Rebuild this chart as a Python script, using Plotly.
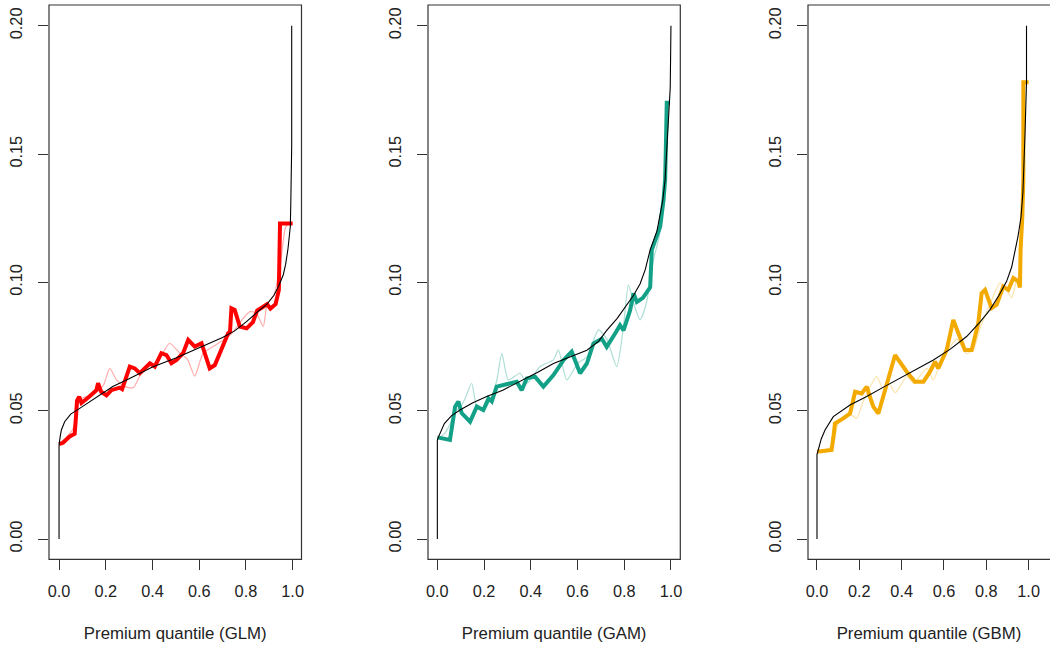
import plotly.graph_objects as go

# ---------------- data ----------------
x_ticks = [0.0, 0.2, 0.4, 0.6, 0.8, 1.0]
x_tick_labels = ["0.0", "0.2", "0.4", "0.6", "0.8", "1.0"]
y_ticks = [0.0, 0.05, 0.10, 0.15, 0.20]
y_tick_labels = ["0.00", "0.05", "0.10", "0.15", "0.20"]

model_names = ["GLM", "GAM", "GBM"]

# GLM
glm_ref_x = [0, 0, 0.005, 0.01, 0.024, 0.05, 0.09, 0.13, 0.175, 0.23, 0.30, 0.40, 0.50, 0.60,
             0.70, 0.75, 0.80, 0.85, 0.89, 0.92, 0.94, 0.96, 0.97, 0.98, 0.99, 0.992, 0.996, 0.996]
glm_ref_y = [0, 0.0366, 0.040, 0.0425, 0.0457, 0.0487, 0.051, 0.0535, 0.056, 0.0594, 0.0625, 0.067,
             0.0705, 0.0745, 0.0785, 0.081, 0.0845, 0.0885, 0.0915, 0.095, 0.0985, 0.103, 0.107,
             0.113, 0.1217, 0.130, 0.153, 0.200]
glm_fit_x = [0, 0.017, 0.046, 0.067, 0.072, 0.077, 0.086, 0.096, 0.13, 0.16, 0.167, 0.18, 0.203,
             0.224, 0.26, 0.27, 0.303, 0.324, 0.346, 0.367, 0.389, 0.41, 0.438, 0.46, 0.481, 0.503,
             0.531, 0.553, 0.581, 0.61, 0.631, 0.645, 0.667, 0.695, 0.724, 0.732, 0.738, 0.752,
             0.774, 0.803, 0.83, 0.848, 0.875, 0.891, 0.905, 0.927, 0.941, 0.944, 0.946, 1.0]
glm_fit_y = [0.037, 0.0375, 0.040, 0.041, 0.047, 0.054, 0.0555, 0.053, 0.0555, 0.058, 0.0607,
             0.0574, 0.056, 0.058, 0.059, 0.0584, 0.0672, 0.0665, 0.0646, 0.0665, 0.0685, 0.0672,
             0.0724, 0.0717, 0.0685, 0.0698, 0.0724, 0.0776, 0.075, 0.0763, 0.0711, 0.0665, 0.0678,
             0.0737, 0.0802, 0.0808, 0.0899, 0.0893, 0.0828, 0.0821, 0.0845, 0.089, 0.0905, 0.0915,
             0.0898, 0.0915, 0.097, 0.110, 0.123, 0.123]
glm_alt_x = [0, 0.03, 0.06, 0.08, 0.10, 0.14, 0.19, 0.217, 0.246, 0.28, 0.318, 0.36, 0.40, 0.44,
             0.474, 0.517, 0.55, 0.581, 0.617, 0.66, 0.703, 0.738, 0.78, 0.817, 0.845, 0.874, 0.891,
             0.92, 0.95, 0.968, 0.98]
glm_alt_y = [0.037, 0.0395, 0.043, 0.052, 0.055, 0.056, 0.060, 0.0665, 0.062, 0.0595, 0.059, 0.066,
             0.068, 0.072, 0.0763, 0.0724, 0.070, 0.0635, 0.0724, 0.075, 0.0776, 0.080, 0.085,
             0.0886, 0.088, 0.0828, 0.0915, 0.095, 0.109, 0.121, 0.123]

# GAM
gam_ref_x = [0, 0, 0.005, 0.03, 0.06, 0.097, 0.15, 0.211, 0.28, 0.354, 0.43, 0.497, 0.57, 0.64,
             0.69, 0.725, 0.77, 0.811, 0.84, 0.868, 0.89, 0.911, 0.94, 0.965, 0.975, 0.982, 0.99,
             0.997, 1.0]
gam_ref_y = [0, 0.0385, 0.0398, 0.045, 0.048, 0.0503, 0.053, 0.0555, 0.058, 0.0613, 0.065, 0.0684,
             0.071, 0.0736, 0.077, 0.0813, 0.086, 0.091, 0.095, 0.0995, 0.105, 0.1127, 0.120,
             0.132, 0.140, 0.1517, 0.163, 0.176, 0.200]
gam_fit_x = [0, 0.026, 0.054, 0.065, 0.076, 0.09, 0.104, 0.14, 0.169, 0.197, 0.219, 0.233, 0.254,
             0.283, 0.31, 0.34, 0.361, 0.383, 0.418, 0.454, 0.497, 0.54, 0.575, 0.611, 0.64, 0.668,
             0.704, 0.725, 0.761, 0.782, 0.797, 0.825, 0.84, 0.854, 0.88, 0.911, 0.918, 0.935,
             0.954, 0.968, 0.975, 0.978, 0.982, 0.996]
gam_fit_y = [0.0396, 0.0393, 0.0386, 0.045, 0.0516, 0.0536, 0.0491, 0.0457, 0.0516, 0.0503,
             0.0548, 0.0536, 0.0594, 0.060, 0.0605, 0.0613, 0.058, 0.0626, 0.0633, 0.0594, 0.0639,
             0.0697, 0.073, 0.0646, 0.0684, 0.0762, 0.0781, 0.0749, 0.0801, 0.0833, 0.0813, 0.0891,
             0.0957, 0.0924, 0.094, 0.0981, 0.1127, 0.117, 0.1218, 0.132, 0.140, 0.152, 0.170, 0.170]
gam_alt_x = [0, 0.03, 0.05, 0.08, 0.10, 0.12, 0.147, 0.169, 0.20, 0.23, 0.255, 0.276, 0.304,
             0.354, 0.383, 0.44, 0.497, 0.518, 0.554, 0.60, 0.64, 0.69, 0.725, 0.768, 0.795, 0.818,
             0.84, 0.868, 0.895, 0.925, 0.95, 0.97, 0.98, 0.99]
gam_alt_y = [0.039, 0.041, 0.044, 0.050, 0.0516, 0.055, 0.0607, 0.0516, 0.0503, 0.055, 0.062,
             0.0724, 0.062, 0.0646, 0.0607, 0.0672, 0.0698, 0.0737, 0.062, 0.0684, 0.071, 0.0815,
             0.078, 0.0672, 0.0815, 0.099, 0.092, 0.0854, 0.092, 0.1088, 0.118, 0.135, 0.160, 0.170]

# GBM
gbm_ref_x = [0, 0, 0.006, 0.02, 0.038, 0.077, 0.156, 0.235, 0.31, 0.392, 0.47, 0.55, 0.63, 0.707,
             0.77, 0.817, 0.86, 0.896, 0.92, 0.936, 0.95, 0.964, 0.973, 0.983, 0.99, 0.99]
gbm_ref_y = [0, 0.033, 0.0347, 0.039, 0.0425, 0.0477, 0.0522, 0.0555, 0.059, 0.0626, 0.066,
             0.0698, 0.074, 0.0789, 0.0845, 0.0893, 0.095, 0.1004, 0.106, 0.1127, 0.118, 0.1255,
             0.135, 0.158, 0.178, 0.200]
gbm_fit_x = [0, 0.04, 0.069, 0.078, 0.085, 0.124, 0.156, 0.168, 0.18, 0.211, 0.235, 0.25, 0.266,
             0.29, 0.329, 0.369, 0.424, 0.463, 0.503, 0.534, 0.558, 0.573, 0.613, 0.644, 0.668,
             0.699, 0.731, 0.762, 0.778, 0.794, 0.825, 0.849, 0.88, 0.904, 0.928, 0.951, 0.959,
             0.962, 0.97, 0.975, 0.975, 1.0]
gbm_fit_y = [0.034, 0.0345, 0.0347, 0.040, 0.045, 0.047, 0.0489, 0.053, 0.0574, 0.0567, 0.0594,
             0.0555, 0.0516, 0.0489, 0.0607, 0.0717, 0.0652, 0.0613, 0.0613, 0.0652, 0.0691,
             0.0665, 0.0737, 0.0854, 0.0802, 0.0737, 0.0737, 0.0841, 0.0958, 0.0971, 0.090,
             0.0913, 0.0984, 0.0971, 0.1017, 0.1004, 0.098, 0.113, 0.125, 0.140, 0.178, 0.178]
gbm_alt_x = [0, 0.07, 0.10, 0.15, 0.187, 0.22, 0.282, 0.31, 0.34, 0.37, 0.424, 0.46, 0.49, 0.52,
             0.55, 0.58, 0.62, 0.66, 0.707, 0.74, 0.77, 0.82, 0.865, 0.895, 0.92, 0.94, 0.96, 0.97]
gbm_alt_y = [0.034, 0.036, 0.045, 0.049, 0.047, 0.054, 0.0633, 0.059, 0.0607, 0.057, 0.0633,
             0.0605, 0.064, 0.0665, 0.0619, 0.068, 0.0737, 0.078, 0.0722, 0.074, 0.082, 0.092,
             0.0997, 0.097, 0.094, 0.100, 0.104, 0.118]

# ---------------- styling ----------------
W, H = 1050, 649
FONT = "Liberation Sans, Arial, Helvetica, sans-serif"
TEXT = "#222222"
BOX = "#333333"

thick_colors = ["#FF0000", "#12A187", "#F3AA00"]
light_colors = ["rgba(255,0,0,0.33)", "rgba(18,161,135,0.35)", "rgba(243,170,0,0.33)"]

# panel boxes in pixels (left, right) and axis ranges
panel_px = [(49, 301.5), (428, 680.3), (808, 1050)]
x_ranges = [[-0.043, 1.038], [-0.04, 1.04], [-0.0425, 1.101]]
box_top, box_bottom = 5, 559.3
y_range = [-0.0079, 0.2081]

panels = [
    (glm_ref_x, glm_ref_y, glm_fit_x, glm_fit_y, glm_alt_x, glm_alt_y),
    (gam_ref_x, gam_ref_y, gam_fit_x, gam_fit_y, gam_alt_x, gam_alt_y),
    (gbm_ref_x, gbm_ref_y, gbm_fit_x, gbm_fit_y, gbm_alt_x, gbm_alt_y),
]

fig = go.Figure()
layout = dict(
    width=W, height=H,
    margin=dict(l=0, r=0, t=0, b=0, pad=0),
    paper_bgcolor="white", plot_bgcolor="white",
    showlegend=False,
    font=dict(family=FONT, size=16, color=TEXT),
    shapes=[],
)

for i, (rx, ry, fx, fy, ax, ay) in enumerate(panels):
    sfx = "" if i == 0 else str(i + 1)
    xa, ya = "x" + sfx, "y" + sfx
    fig.add_trace(go.Scatter(x=ax, y=ay, mode="lines", xaxis=xa, yaxis=ya,
                             line=dict(color=light_colors[i], width=1.2, shape="spline",
                                       smoothing=0.6),
                             hoverinfo="skip"))
    fig.add_trace(go.Scatter(x=fx, y=fy, mode="lines", xaxis=xa, yaxis=ya,
                             line=dict(color=thick_colors[i], width=4), hoverinfo="skip"))
    fig.add_trace(go.Scatter(x=rx, y=ry, mode="lines", xaxis=xa, yaxis=ya,
                             line=dict(color="black", width=1.1), hoverinfo="skip"))

    left, right = panel_px[i]
    layout["xaxis" + sfx] = dict(
        domain=[left / W, right / W], range=x_ranges[i], anchor=ya,
        tickvals=x_ticks, ticktext=x_tick_labels,
        ticks="outside", ticklen=10, tickwidth=1, tickcolor=BOX,
        showgrid=False, zeroline=False, showline=False, automargin=False,
        ticklabelstandoff=7,
        title=dict(text=f"Premium quantile ({model_names[i]})", standoff=28,
                   font=dict(family=FONT, size=16.8, color=TEXT)),
        tickfont=dict(family=FONT, size=16.3, color=TEXT),
    )
    layout["yaxis" + sfx] = dict(
        domain=[(H - box_bottom) / H, (H - box_top) / H], range=y_range, anchor=xa,
        tickvals=y_ticks, ticktext=y_tick_labels, tickangle=-90,
        ticks="outside", ticklen=10, tickwidth=1, tickcolor=BOX,
        showgrid=False, zeroline=False, showline=False, automargin=False,
        ticklabelstandoff=9,
        tickfont=dict(family=FONT, size=16.3, color=TEXT),
    )
    # frame around the plotting region
    x1 = 1.0 if i < 2 else 1.2
    layout["shapes"].append(dict(
        type="rect", xref=xa + " domain", yref=ya + " domain",
        x0=0, x1=x1, y0=0, y1=1, line=dict(color=BOX, width=1.2),
        fillcolor="rgba(0,0,0,0)", layer="above"))

fig.update_layout(**layout)
fig.write_html("out.html", config={"displayModeBar": False},
               post_script="document.body.style.margin='0';")
